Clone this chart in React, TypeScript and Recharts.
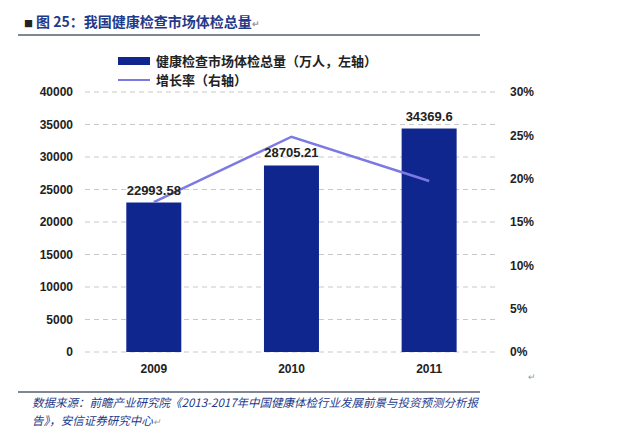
import React from "react"
import {
    ComposedChart,
    Bar,
    Line,
    XAxis,
    YAxis,
    CartesianGrid,
    LabelList
} from "recharts"

const years = ["2009", "2010", "2011"]
const volume = [22993.58, 28705.21, 34369.6]
const growth = [0.173, 0.2484, 0.1973]
const leftTicks = [0, 5000, 10000, 15000, 20000, 25000, 30000, 35000, 40000]
const rightTicks = [0, 0.05, 0.1, 0.15, 0.2, 0.25, 0.3]

const data = years.map((year, i) => ({
    year,
    volume: volume[i],
    growth: growth[i]
}))

const BAR_COLOR = "#10268f"
const LINE_COLOR = "#7d79e2"
const TEXT_BLUE = "#1f3a8a"
const axisFont = "'Liberation Sans Narrow', 'Liberation Sans', Arial, sans-serif"
const cjkFont = "'Noto Sans CJK SC', sans-serif"
const tickStyle = { fontSize: 12, fontWeight: 700, fill: "#222", fontFamily: axisFont }

function LegendBox() {
    return (
        <div style={{ position: "absolute", left: 118, top: 51, fontFamily: cjkFont, fontWeight: 700, fontSize: 13, color: "#222", whiteSpace: "nowrap" }}>
            <div style={{ display: "flex", alignItems: "center", height: 19 }}>
                <span style={{ display: "inline-block", width: 32, height: 8, background: BAR_COLOR, marginRight: 6 }} />
                <span>健康检查市场体检总量（万人，左轴）</span>
            </div>
            <div style={{ display: "flex", alignItems: "center", height: 19 }}>
                <span style={{ display: "inline-block", width: 32, height: 2, background: LINE_COLOR, marginRight: 6 }} />
                <span>增长率（右轴）</span>
            </div>
        </div>
    )
}

export default function App() {
    return (
        <div style={{ position: "absolute", left: 0, top: 0, width: 618, height: 447, background: "#fff", overflow: "hidden" }}>
            <div style={{ position: "absolute", left: 24, top: 11, fontFamily: cjkFont, fontWeight: 700, fontSize: 14, color: TEXT_BLUE, whiteSpace: "nowrap" }}>
                <span style={{ fontSize: 9, color: "#222", marginRight: 3 }}>■</span>图 25：我国健康检查市场体检总量<span style={{ fontSize: 9, color: "#999" }}>↵</span>
            </div>
            <div style={{ position: "absolute", left: 18, top: 34, width: 462, height: 2, background: "#7f8794" }} />

            <ComposedChart
                width={618}
                height={447}
                data={data}
                margin={{ top: 92, right: 60, bottom: 65, left: 25 }}
                barCategoryGap="30%"
            >
                <CartesianGrid vertical={false} stroke="#c9c9c9" strokeDasharray="5 4" yAxisId="left" />
                <XAxis
                    dataKey="year"
                    axisLine={false}
                    tickLine={false}
                    tickMargin={6}
                    tick={tickStyle}
                />
                <YAxis
                    yAxisId="left"
                    domain={[0, 40000]}
                    ticks={leftTicks}
                    width={60}
                    axisLine={false}
                    tickLine={false}
                    tickMargin={6}
                    tick={tickStyle}
                />
                <YAxis
                    yAxisId="right"
                    orientation="right"
                    domain={[0, 0.3]}
                    ticks={rightTicks}
                    width={60}
                    axisLine={false}
                    tickLine={false}
                    tickMargin={6}
                    tickFormatter={(v) => `${Math.round(v * 100)}%`}
                    tick={tickStyle}
                />
                <Bar yAxisId="left" dataKey="volume" fill={BAR_COLOR} isAnimationActive={false}>
                    <LabelList
                        dataKey="volume"
                        position="top"
                        offset={8}
                        style={{ fontSize: 13, fontWeight: 700, fill: "#222", fontFamily: "'Liberation Sans', Arial, sans-serif" }}
                    />
                </Bar>
                <Line
                    yAxisId="right"
                    dataKey="growth"
                    type="linear"
                    stroke={LINE_COLOR}
                    strokeWidth={2.5}
                    dot={false}
                    activeDot={false}
                    isAnimationActive={false}
                />
            </ComposedChart>

            <LegendBox />

            <div style={{ position: "absolute", left: 528, top: 372, fontSize: 9, color: "#999" }}>↵</div>
            <div style={{ position: "absolute", left: 18, top: 391, width: 462, height: 2, background: "#7f8794" }} />
            <div style={{ position: "absolute", left: 32, top: 393, fontFamily: cjkFont, fontStyle: "italic", fontSize: 11.5, lineHeight: "18px", color: TEXT_BLUE, whiteSpace: "nowrap" }}>
                <div>数据来源：前瞻产业研究院《2013-2017年中国健康体检行业发展前景与投资预测分析报</div>
                <div>告》，安信证券研究中心<span style={{ fontSize: 9, color: "#999" }}>↵</span></div>
            </div>
        </div>
    )
}
